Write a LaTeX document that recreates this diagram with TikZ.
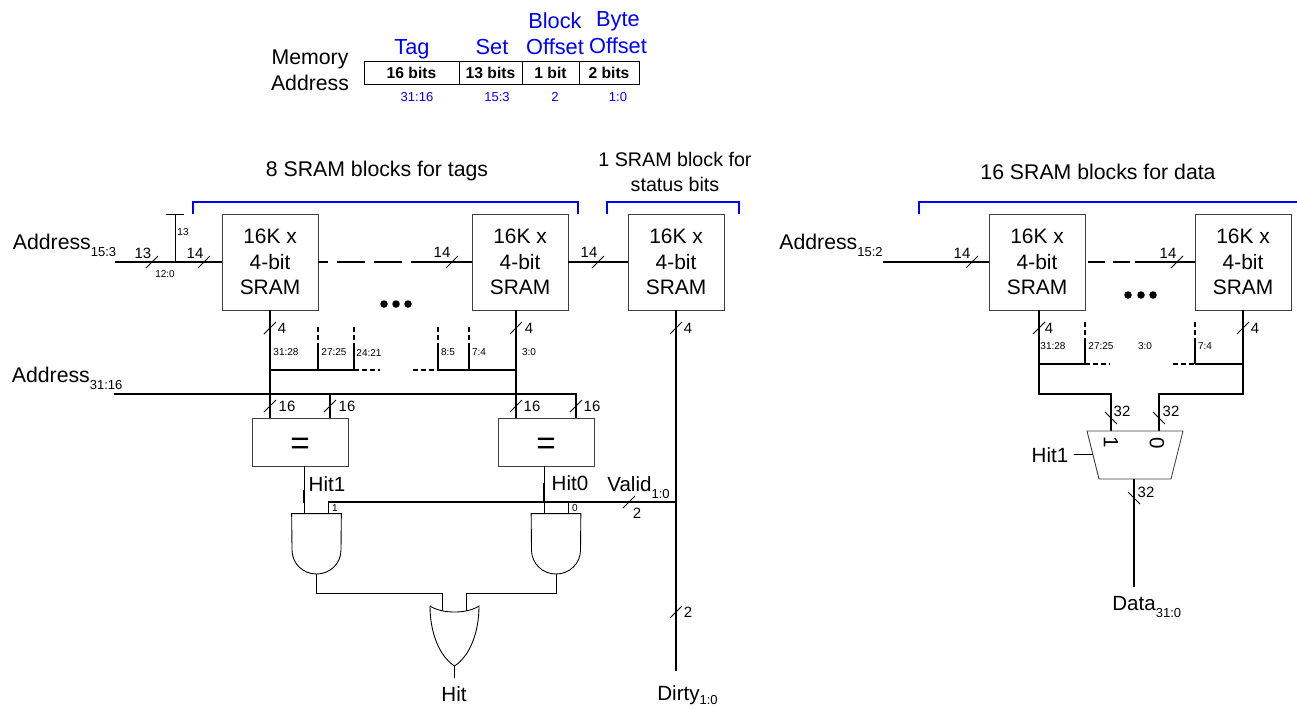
\documentclass[tikz,border=0pt]{standalone}
\usepackage{fontspec}
\setmainfont{Liberation Sans}
\usetikzlibrary{positioning}

\definecolor{labelblue}{RGB}{0,0,255}
\newcommand{\subtxt}[2][4.2pt]{\raisebox{-#1}{\fontsize{7.4}{8}\selectfont #2}}

\tikzset{
    bus/.style={line width=0.8pt},
    wire/.style={line width=0.5pt},
    slashmark/.style={line width=0.5pt},
    stubdash/.style={line width=0.8pt, dash pattern=on 0.1cm off 0.06cm},
    brace/.style={labelblue, line width=0.8pt},
    sram/.style={draw=black!75, line width=0.5pt, minimum width=1.92cm, minimum height=1.92cm, inner sep=0pt, align=center, font=\fontsize{11.9}{14.5}\selectfont},
    cmpbox/.style={draw=black!75, line width=0.5pt, minimum width=1.92cm, minimum height=0.96cm, inner sep=0pt, text height=14pt, text depth=0pt, font=\fontsize{19}{19}\selectfont},
    gatebox/.style={minimum width=0.98cm, minimum height=1.2cm, inner sep=0pt},
    field/.style={draw=black, line width=0.5pt, minimum height=0.46cm, inner sep=0pt, font=\bfseries\fontsize{8.9}{10}\selectfont},
    big/.style={inner sep=0pt, font=\fontsize{11.7}{14.5}\selectfont, align=center},
    title/.style={big, font=\fontsize{12.1}{14.5}\selectfont},
    bluebig/.style={big, labelblue, font=\fontsize{12.4}{15}\selectfont},
    busnum/.style={inner sep=0pt, font=\fontsize{8.5}{10}\selectfont},
    tiny/.style={inner sep=0pt, font=\fontsize{5.7}{7}\selectfont},
    bluetiny/.style={inner sep=0pt, labelblue, font=\fontsize{7.4}{9}\selectfont},
    dotmark/.style={circle, fill=black, inner sep=0pt, minimum size=0.15cm}
}

\begin{document}
\begin{tikzpicture}[x=0.02cm, y=-0.02cm]
    \useasboundingbox (0,0) rectangle (1297,708);

    % Address fields
    \node[field, minimum width=1.9cm] (ftag) at (411.5,72.5) {16 bits};
    \node[field, minimum width=1.26cm] (fset) at (490.5,72.5) {13 bits};
    \node[field, minimum width=1.14cm] (fblock) at (550.5,72.5) {1 bit};
    \node[field, minimum width=1.2cm] (fbyte) at (609,72.5) {2 bits};
    \node[title, anchor=base] (memword) at (310,64) {Memory};
    \node[title, anchor=base] (addrword) at (310,90) {Address};
    \node[bluebig, anchor=base] (ltag) at (412,54) {Tag};
    \node[bluebig, anchor=base] (lset) at (492,54) {Set};
    \node[bluebig, anchor=base] (lblock) at (555,28) {Block};
    \node[bluebig, anchor=base] (lbloff) at (555,54) {Offset};
    \node[bluebig, anchor=base] (lbyte) at (618,26) {Byte};
    \node[bluebig, anchor=base] (lbyoff) at (618,53) {Offset};
    \foreach \n/\x/\t in {rtag/417/31:16, rset/497/15:3, rblock/555/2, rbyte/618/1:0}
        \node[bluetiny] (\n) at (\x,97) {\t};

    % Block titles
    \node[title] (ttags) at (377,171) {8 SRAM blocks for tags};
    \node[big, font=\fontsize{11.2}{14.5}\selectfont] (tstat) at (675,172) {1 SRAM block for\\status bits};
    \node[title] (tdata) at (1098,172) {16 SRAM blocks for data};
    \coordinate (ba1) at (193,214); \coordinate (ba2) at (193,202);
    \coordinate (bb1) at (578,202); \coordinate (bb2) at (578,214);
    \coordinate (bc1) at (607,214); \coordinate (bc2) at (607,202);
    \coordinate (bd1) at (739,202); \coordinate (bd2) at (739,214);
    \coordinate (be1) at (919,214); \coordinate (be2) at (919,202);
    \coordinate (bf1) at (1297,202);
    \draw[brace] (ba1) -- (ba2) -- (bb1) -- (bb2);
    \draw[brace] (bc1) -- (bc2) -- (bd1) -- (bd2);
    \draw[brace] (be1) -- (be2) -- (bf1);

    % SRAM blocks
    \foreach \n/\x in {sa/270, sb/520, sc/676, sd/1037, se/1243}
        \node[sram] (\n) at (\x,262) {16K x\\4-bit\\SRAM};

    % Comparators and gates
    \node[cmpbox] (eqa) at (300,442) {=};
    \node[cmpbox] (eqb) at (546,442) {=};
    \foreach \n/\x in {anda/316.5, andb/556} {
        \node[gatebox] (\n) at (\x,544) {};
        \draw[wire] (\n.north west) -- (\n.north east) -- (\x+24.5,550)
            .. controls (\x+24.5,563.5) and (\x+13.5,574) .. (\x,574)
            .. controls (\x-13.5,574) and (\x-24.5,563.5) .. (\x-24.5,550) -- cycle;
    }
    \node[gatebox] (orgate) at (454.5,636) {};
    \draw[wire] (430,606) .. controls (442,614) and (467,614) .. (479,606)
        .. controls (479,632) and (470,656) .. (454.5,666)
        .. controls (439,656) and (430,632) .. (430,606);

    % Tag side wires
    \coordinate (ain) at (115,262); \coordinate (stub) at (175,262);
    \coordinate (stubtop) at (175,214); \coordinate (capl) at (166,214); \coordinate (capr) at (184,214);
    \coordinate (adash) at (412,262);
    \draw[bus] (ain) -- (sa.west);
    \draw[wire] (stub) -- (stubtop);
    \draw[wire] (capl) -- (capr);
    \draw[bus, dash pattern=on 0.56cm off 0.18cm, dash phase=0.36cm] (sa.east) -- (adash);
    \draw[bus] (adash) -- (sb.west);
    \draw[bus] (sb.east) -- (sc.west);
    \coordinate (tagin) at (114,394); \coordinate (tagend) at (576,394);
    \coordinate (sbout) at (516,310); \coordinate (bjoin) at (516,370);
    \coordinate (ajoin) at (270,370);
    \coordinate (eqa1) at (270,418); \coordinate (eqa2) at (330,418);
    \coordinate (eqb1) at (516,418); \coordinate (eqb2) at (576,418);
    \coordinate (taga2) at (330,394);
    \draw[bus] (sa.south) -- (eqa1);
    \draw[bus] (sbout) -- (eqb1);
    \draw[bus] (tagin) -- (tagend) -- (eqb2);
    \draw[bus] (taga2) -- (eqa2);
    \foreach \n/\x/\a/\b in {ta/318/327/343, tb/354/327/343, tc/438/327/343, td/469/327/343} {
        \coordinate (\n1) at (\x,\a); \coordinate (\n2) at (\x,\b); \coordinate (\n3) at (\x,370);
        \draw[stubdash] (\n1) -- (\n2);
        \draw[bus] (\n2) -- (\n3);
    }
    \coordinate (aend) at (380,370); \coordinate (bend) at (413,370);
    \draw[bus] (ajoin) -- (tb3);
    \draw[stubdash] (tb3) -- (aend);
    \draw[bus] (tc3) -- (bjoin);
    \draw[stubdash] (bend) -- (tc3);

    % Hit logic
    \coordinate (h1a) at (304,466); \coordinate (h1b) at (304,490); \coordinate (h1c) at (304,503); \coordinate (h1d) at (304,514);
    \coordinate (h0a) at (544,466); \coordinate (h0b) at (544,483); \coordinate (h0c) at (544,503); \coordinate (h0d) at (544,514);
    \draw[wire] (h1a) -- (h1d);
    \draw[bus] (h1b) -- (h1c);
    \draw[wire] (h0a) -- (h0d);
    \draw[bus] (h0b) -- (h0c);
    \coordinate (va) at (328,502); \coordinate (vb) at (568,502); \coordinate (vc) at (676,502);
    \coordinate (va2) at (328,514); \coordinate (vb2) at (568,514);
    \draw[bus] (va) -- (vc);
    \draw[wire] (va) -- (va2);
    \draw[wire] (vb) -- (vb2);
    \coordinate (dirtyend) at (676,671);
    \draw[bus] (sc.south) -- (dirtyend);
    \coordinate (oa1) at (316.5,593); \coordinate (oa2) at (442,593); \coordinate (oa3) at (442,611);
    \coordinate (ob1) at (556,593); \coordinate (ob2) at (466,593); \coordinate (ob3) at (466,611);
    \coordinate (orout) at (454.5,666); \coordinate (hitend) at (454.5,678);
    \draw[wire] (anda.south) -- (oa1) -- (oa2) -- (oa3);
    \draw[wire] (andb.south) -- (ob1) -- (ob2) -- (ob3);
    \draw[wire] (orout) -- (hitend);

    % Data side wires
    \coordinate (din) at (883,262); \coordinate (ddash) at (1135,262); \coordinate (ddash0) at (1088,262);
    \draw[bus] (din) -- (sd.west);
    \draw[bus, dash pattern=on 0.34cm off 0.16cm] (ddash0) -- (ddash);
    \draw[bus] (ddash) -- (se.west);
    \coordinate (sdout) at (1039,310); \coordinate (sdj) at (1039,364); \coordinate (sdk) at (1039,394);
    \coordinate (mux1a) at (1111,394); \coordinate (mux1b) at (1111,431);
    \coordinate (sej) at (1243,364); \coordinate (sek) at (1243,394);
    \coordinate (mux0a) at (1159,394); \coordinate (mux0b) at (1159,431);
    \draw[bus] (sdout) -- (sdk) -- (mux1a) -- (mux1b);
    \draw[bus] (se.south) -- (sek) -- (mux0a) -- (mux0b);
    \foreach \n/\x in {tf/1085, tg/1195} {
        \coordinate (\n1) at (\x,322); \coordinate (\n2) at (\x,338); \coordinate (\n3) at (\x,364);
        \draw[stubdash] (\n1) -- (\n2);
        \draw[bus] (\n2) -- (\n3);
    }
    \coordinate (dend) at (1110,364); \coordinate (eend) at (1173,364);
    \draw[bus] (sdj) -- (tf3);
    \draw[stubdash] (tf3) -- (dend);
    \draw[bus] (tg3) -- (sej);
    \draw[stubdash] (eend) -- (tg3);

    % Mux
    \coordinate (mtl) at (1087,431); \coordinate (mtr) at (1183,431);
    \coordinate (mbr) at (1171,479); \coordinate (mbl) at (1099,479);
    \coordinate (msel) at (1074,454); \coordinate (mside) at (1092.7,454);
    \coordinate (mout) at (1134,479); \coordinate (dataend) at (1134,587);
    \draw[draw=black!75, line width=0.5pt] (mtl) -- (mtr) -- (mbr) -- (mbl) -- cycle;
    \draw[wire] (msel) -- (mside);
    \draw[bus] (mout) -- (dataend);
    \node[big, rotate=-90] (muxone) at (1111,442) {1};
    \node[big, rotate=-90] (muxzero) at (1157,443) {0};

    % Bus width marks
    \foreach \x/\y in {152/262, 204/262, 452/262, 598/262, 972/262, 1177/262,
        270/328, 516/328, 676/328, 1039/328, 1243/328,
        270/406, 330/406, 516/406, 576/406, 629/502, 676/612}
        \draw[slashmark] (\x-6,\y+6) -- (\x+6,\y-6);
    \foreach \x/\y in {1111/418, 1159/418, 1134/498}
        \draw[slashmark] (\x-6,\y-6) -- (\x+6,\y+6);

    % Bus width labels
    \foreach \x/\y/\t [count=\i] in {143/253/13, 195/253/14, 442/252/14, 589/252/14,
        282/328/4, 529/328/4, 688/328/4, 287/406/16, 347/406/16, 532/406/16, 592/406/16,
        637/513/2, 688/612/2, 962/253/14, 1168/253/14, 1049/328/4, 1255/328/4,
        1122/411/32, 1171/411/32, 1146/492/32}
        \node[busnum] (num\i) at (\x,\y) {\t};
    \foreach \x/\y/\t [count=\i] in {183/232/13, 165/274/12:0, 286/352.5/31:28, 334/352.5/27:25,
        369/352.5/24:21, 448/352.5/8:5, 479/352.5/7:4, 529/352.5/3:0, 335/508/1, 575/508/0,
        1053/346/31:28, 1101/346/27:25, 1145/346/3:0, 1205/346/7:4}
        \node[tiny] (bits\i) at (\x,\y) {\t};

    % Dots
    \foreach \n/\x/\y in {da/384/304, db/396/304, dc/408/304, dd/1128/295, de/1141/295, df/1153/295}
        \node[dotmark] (\n) at (\x,\y) {};

    % Signal names
    \node[title, anchor=base west] (addra) at (12.5,249) {Address\subtxt{15:3}};
    \node[title, anchor=base west] (addrb) at (11.5,382) {Address\subtxt{31:16}};
    \node[title, anchor=base west] (addrc) at (779,249) {Address\subtxt{15:2}};
    \node[big, anchor=base west] (valid) at (607,491) {Valid\subtxt{1:0}};
    \node[big, anchor=base west] (dirty) at (657,700) {Dirty\subtxt[2.5pt]{1:0}};
    \node[big, anchor=base west] (data) at (1112,610) {Data\subtxt{31:0}};
    \node[big, anchor=base] (hitone) at (327,491) {Hit1};
    \node[big, anchor=base] (hitzero) at (570,490) {Hit0};
    \node[big, anchor=base] (hit) at (454,701) {Hit};
    \node[big, anchor=base] (muxsel) at (1050,462) {Hit1};
\end{tikzpicture}
\end{document}
